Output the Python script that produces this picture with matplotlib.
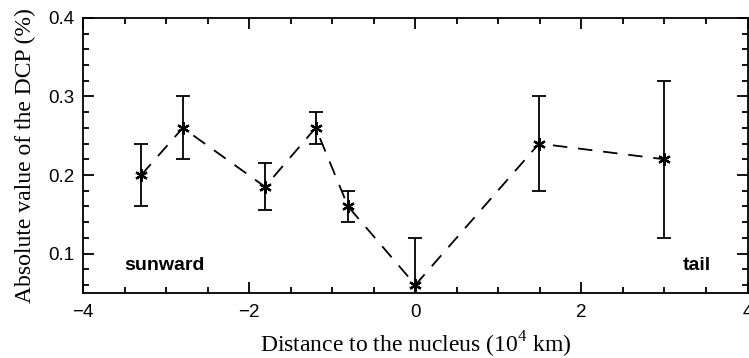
import matplotlib
matplotlib.use('Agg')
import matplotlib.pyplot as plt
from matplotlib.ticker import MultipleLocator

plt.rcParams['mathtext.fontset'] = 'custom'
plt.rcParams['mathtext.rm'] = 'Liberation Serif'

# distance to the nucleus (1e4 km) and |DCP| (%)
dist = [-3.30, -2.80, -1.81, -1.20, -0.81, 0.0, 1.49, 3.0]
dcp = [0.20, 0.26, 0.185, 0.26, 0.16, 0.06, 0.24, 0.22]
err_lo = [0.04, 0.04, 0.03, 0.02, 0.02, 0.06, 0.06, 0.10]
err_hi = [0.04, 0.04, 0.03, 0.02, 0.02, 0.06, 0.06, 0.10]

fig = plt.figure(figsize=(7.49, 3.58), dpi=100)
ax = fig.add_axes([0.111, 0.182, 0.887, 0.768])

ax.errorbar(dist, dcp, yerr=[err_lo, err_hi], fmt='none', ecolor='black',
            elinewidth=1.3, capsize=5, capthick=1.3)
ax.plot(dist, dcp, color='black', linestyle=(0, (8, 6)), linewidth=1.3,
        marker=(6, 2, 0), markersize=9, markeredgewidth=1.6)

ax.set_xlim(-4, 4)
ax.set_ylim(0.05, 0.4)
ax.xaxis.set_minor_locator(MultipleLocator(0.5))
ax.yaxis.set_minor_locator(MultipleLocator(0.02))
ax.tick_params(which='both', direction='in', top=True, right=True, width=1.3)
ax.tick_params(which='major', length=8, labelsize=13.5)
ax.tick_params(axis='x', which='major', pad=8)
ax.tick_params(axis='y', which='major', pad=6)
ax.tick_params(which='minor', length=4)
ax.set_yticks([0.1, 0.2, 0.3, 0.4])
ax.set_yticklabels(['0.1', '0.2', '0.3', '0.4'], family='Liberation Sans')
ax.set_xticks([-4, -2, 0, 2, 4])
# the last label sits on the right edge and is cut, as in the original
ax.set_xticklabels(['\u22124', '\u22122', '0', '2', '4'], family='Liberation Sans')
for s in ax.spines.values():
    s.set_linewidth(1.3)

ax.text(-3.5, 0.079, 'sunward', fontsize=14, fontweight='bold', family='Liberation Sans')
ax.text(3.22, 0.079, 'tail', fontsize=14, fontweight='bold', family='Liberation Sans')

ax.set_xlabel('Distance to the nucleus (10$^4$ km)', family='Liberation Serif',
              fontsize=17, labelpad=6)
ax.set_ylabel('Absolute value of the DCP (%)', family='Liberation Serif',
              fontsize=17, labelpad=9)

plt.savefig('out.png')
